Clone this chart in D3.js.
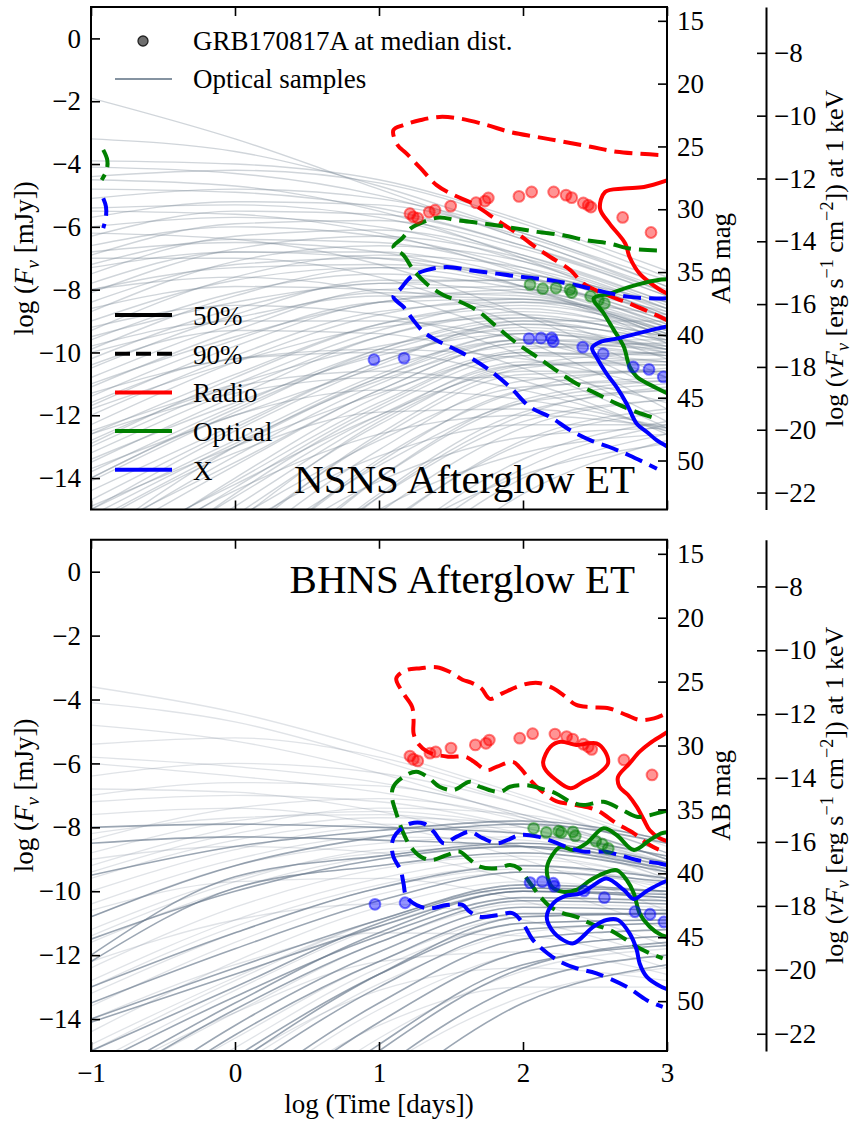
<!DOCTYPE html>
<html><head><meta charset="utf-8">
<script src="https://cdn.jsdelivr.net/npm/d3@7"></script>
<style>body{margin:0;background:#fff}svg{display:block}
svg text{font-family:"Liberation Serif","Times New Roman",Times,serif;fill:#000}</style>
</head><body><svg id="c" width="854" height="1124"></svg>
<script>
// ---------- tick values ----------
const timeTicks=[-1,0,1,2,3];
const fluxTicks=[0,-2,-4,-6,-8,-10,-12,-14];
const abTicks=[15,20,25,30,35,40,45,50];
const xrayTicks=[-8,-10,-12,-14,-16,-18,-20,-22];
const AB_ZERO=16.4;      // AB = AB_ZERO - 2.5 log F[mJy]
const KEV_OFFSET=7.54;   // log nuF_nu(1 keV) = log F[mJy] - KEV_OFFSET

// ---------- optical sample light curves (log F at log t = -1,0,1,2,3) ----------
const sampleTimes=[-1,0,1,2,3];
const nsnsSamples=[
[-1.9,-3.2,-4.8,-6.4,-8.0],[-3.2,-3.6,-4.7,-6.2,-7.7],[-3.9,-4.0,-4.5,-5.8,-7.4],[-4.1,-4.3,-5.0,-6.4,-8.1],
[-4.4,-4.2,-4.6,-5.9,-7.6],[-4.8,-4.9,-5.4,-6.6,-8.2],[-5.1,-4.8,-5.1,-6.2,-7.9],[-5.4,-5.3,-5.7,-6.9,-8.4],
[-5.7,-5.2,-5.3,-6.3,-7.9],[-6.0,-5.7,-6.0,-7.1,-8.6],[-6.3,-5.5,-5.6,-6.6,-8.1],[-6.6,-6.0,-6.3,-7.3,-8.8],
[-6.9,-5.9,-5.8,-6.7,-8.2],[-7.2,-6.4,-6.5,-7.4,-8.9],[-7.5,-6.3,-6.1,-6.9,-8.4],[-7.8,-6.8,-6.8,-7.6,-9.0],
[-8.1,-6.7,-6.3,-7.0,-8.5],[-8.4,-7.2,-7.0,-7.7,-9.1],[-8.7,-7.1,-6.6,-7.1,-8.6],[-9.0,-7.7,-7.3,-7.9,-9.2],
[-9.3,-7.6,-6.9,-7.3,-8.7],[-9.6,-8.1,-7.5,-8.0,-9.3],[-9.9,-8.2,-7.3,-7.5,-8.8],[-10.2,-8.6,-7.8,-8.1,-9.4],
[-10.5,-8.8,-7.7,-7.7,-8.9],[-10.8,-9.1,-8.1,-8.2,-9.4],[-11.1,-9.3,-8.0,-7.9,-9.0],[-11.4,-9.6,-8.4,-8.3,-9.5],
[-11.7,-9.8,-8.4,-8.1,-9.1],[-12.0,-10.1,-8.7,-8.4,-9.5],[-12.3,-10.3,-8.8,-8.3,-9.2],[-12.6,-10.7,-9.1,-8.6,-9.6],
[-12.9,-10.8,-9.1,-8.5,-9.3],[-13.2,-11.2,-9.5,-8.8,-9.7],[-13.5,-11.4,-9.5,-8.7,-9.4],[-13.8,-11.7,-9.9,-9.0,-9.8],
[-14.1,-11.9,-9.9,-8.9,-9.5],[-14.4,-12.3,-10.3,-9.2,-9.9],[-14.7,-12.4,-10.3,-9.1,-9.6],[-15.0,-12.8,-10.7,-9.4,-10.0],
[-15.4,-13.0,-10.8,-9.4,-9.8],[-15.8,-13.5,-11.2,-9.7,-10.1],[-16.2,-13.6,-11.2,-9.7,-9.9],[-16.7,-14.1,-11.6,-10.0,-10.3],
[-17.2,-14.3,-11.7,-10.0,-10.1],[-17.8,-14.9,-12.1,-10.3,-10.4],[-18.4,-15.2,-12.3,-10.4,-10.3],[-19.0,-15.8,-12.7,-10.7,-10.6],
[-19.7,-16.3,-13.1,-10.9,-10.6],[-20.4,-16.9,-13.5,-11.2,-10.8],[-21.2,-17.6,-14.0,-11.6,-11.0],[-22.0,-18.2,-14.5,-11.9,-11.2],
[-23.0,-19.0,-15.1,-12.4,-11.5],[-24.0,-19.8,-15.7,-12.8,-11.8],[-25.0,-20.7,-16.4,-13.4,-12.2],[-26.0,-21.6,-17.2,-14.0,-12.6],
[-6.2,-6.4,-7.2,-8.8,-10.8],[-7.0,-7.0,-7.6,-9.2,-11.3],[-8.0,-7.6,-8.1,-9.6,-11.8],[-9.2,-8.5,-8.8,-10.1,-12.2],
[-10.4,-9.3,-9.4,-10.5,-12.4],[-11.6,-10.2,-10.0,-10.9,-12.6],[-12.8,-11.1,-10.6,-11.2,-12.5],[-14.0,-12.0,-11.2,-11.5,-12.4],
[-15.5,-13.2,-11.9,-11.8,-12.5],[-17.0,-14.4,-12.6,-12.0,-12.4],[-18.5,-15.6,-13.3,-12.3,-12.3],[-20.0,-16.8,-14.1,-12.7,-12.4],
[-22.0,-18.3,-15.0,-13.2,-12.6],[-24.5,-20.0,-16.2,-13.9,-12.9],[-17.0,-14.0,-11.4,-9.9,-9.7],[-16.0,-13.3,-11.0,-9.6,-9.6],
[-19.0,-15.4,-12.2,-10.4,-10.0],[-15.0,-12.5,-10.4,-9.0,-9.0],[-13.0,-11.0,-9.3,-8.4,-8.8],[-11.0,-9.5,-8.4,-8.0,-8.7],
[-9.5,-8.4,-7.8,-7.7,-8.6],[-8.0,-7.3,-7.2,-7.5,-8.4],[-21.0,-17.0,-13.4,-11.2,-10.5],[-23.0,-18.6,-14.6,-12.0,-11.1],
[-12.5,-11.0,-9.8,-9.3,-9.9],[-13.7,-12.0,-10.5,-9.6,-10.0],[-14.9,-13.0,-11.3,-10.1,-10.3],[-16.5,-14.2,-12.0,-10.6,-10.6],
[-18.0,-15.3,-12.8,-11.1,-10.9],[-19.5,-16.5,-13.6,-11.6,-11.2],[-21.5,-18.0,-14.6,-12.2,-11.5],[-23.5,-19.5,-15.6,-12.9,-11.9],
[-25.5,-21.0,-16.8,-13.7,-12.3],[-27.0,-22.5,-18.0,-14.5,-12.8],[-10.0,-8.9,-8.2,-8.3,-9.3],[-11.8,-10.3,-9.2,-8.9,-9.5],
[-13.4,-11.6,-10.1,-9.4,-9.9],[-15.2,-12.9,-10.9,-9.8,-10.1],[-17.5,-14.6,-12.0,-10.4,-10.4],[-7.3,-6.8,-7.0,-7.9,-9.5],
[-8.6,-7.9,-8.0,-8.8,-10.2],[-9.8,-9.0,-9.0,-9.6,-10.8],[-11.3,-10.2,-9.9,-10.2,-11.2],[-12.6,-11.3,-10.8,-10.8,-11.6],
[-5.5,-5.6,-6.2,-7.5,-9.2],[-4.5,-4.7,-5.5,-7.0,-8.9],[-6.8,-6.5,-6.8,-7.9,-9.7],[-20.0,-16.0,-12.6,-10.5,-10.2],
[-22.5,-18.0,-14.0,-11.5,-10.9],[-18.0,-14.5,-11.8,-10.1,-10.0],[-16.0,-13.0,-10.8,-9.6,-9.8],[-14.0,-11.8,-10.0,-9.1,-9.6]
];
const bhnsSamplesLight=[
[-3.6,-4.4,-5.6,-7.0,-8.5],[-4.1,-4.7,-5.9,-7.3,-8.8],[-5.4,-5.2,-5.8,-7.1,-8.6],[-5.8,-6.1,-6.6,-7.6,-9.0],
[-6.0,-6.4,-6.9,-7.8,-9.1],[-6.4,-6.0,-6.3,-7.3,-8.8],[-7.0,-6.6,-6.7,-7.6,-9.0],[-7.2,-7.0,-7.2,-8.0,-9.3],
[-8.4,-7.4,-7.1,-7.7,-9.0],[-8.8,-7.8,-7.5,-8.0,-9.2],[-9.2,-8.0,-7.4,-7.6,-8.8],[-9.6,-8.4,-7.9,-8.2,-9.4],
[-10.0,-8.7,-8.0,-8.0,-9.0],[-10.4,-9.0,-8.3,-8.4,-9.5],[-10.8,-9.2,-8.5,-8.3,-9.1],[-11.2,-9.6,-8.8,-8.6,-9.6],
[-11.6,-9.9,-8.9,-8.6,-9.3],[-12.4,-10.5,-9.3,-8.9,-9.7],[-12.8,-10.9,-9.6,-9.0,-9.6],[-13.2,-11.3,-9.9,-9.3,-9.9],
[-13.6,-11.6,-10.1,-9.4,-9.8],[-14.4,-12.2,-10.5,-9.7,-10.1],[-14.8,-12.7,-10.9,-9.9,-10.3],[-15.4,-13.1,-11.1,-10.0,-10.2],
[-16.2,-13.8,-11.6,-10.4,-10.5],[-17.2,-14.6,-12.2,-10.8,-10.7],[-18.4,-15.5,-12.9,-11.3,-11.0],[-19.8,-16.6,-13.7,-11.9,-11.4],
[-21.4,-17.8,-14.6,-12.5,-11.8],[-23.0,-19.2,-15.6,-13.3,-12.4],[-7.6,-7.4,-7.9,-9.0,-10.6],[-9.0,-8.6,-8.8,-9.7,-11.2],
[-10.6,-9.7,-9.6,-10.3,-11.7],[-12.2,-10.9,-10.4,-10.9,-12.1],[-14.0,-12.3,-11.3,-11.4,-12.4],[-16.0,-13.8,-12.2,-11.9,-12.6],
[-18.0,-15.3,-13.1,-12.4,-12.8],[-20.5,-17.0,-14.2,-13.0,-13.0],[-4.8,-5.3,-6.3,-7.7,-9.2],[-6.8,-6.9,-7.5,-8.6,-10.1],
[-9.4,-8.2,-7.7,-7.9,-9.0],[-11.4,-9.7,-8.7,-8.5,-9.4],[-13.0,-11.1,-9.8,-9.2,-9.8],[-15.0,-12.8,-10.9,-9.9,-10.2],
[-17.6,-14.9,-12.4,-11.0,-10.9],[-8.2,-7.7,-7.6,-8.2,-9.6]
];
const bhnsSamplesDark=[
[-12.0,-9.55,-8.9,-8.5,-9.1],[-12.2,-9.9,-9.2,-8.8,-9.4],[-8.0,-7.9,-8.0,-8.2,-8.9],[-14.0,-12.4,-10.9,-9.8,-10.0],
[-14.1,-12.6,-11.1,-10.0,-10.1],[-15.5,-13.3,-11.4,-10.2,-10.3],[-16.3,-13.7,-11.6,-10.3,-10.4],[-17.2,-14.2,-11.9,-10.5,-10.6],
[-17.5,-14.5,-12.2,-10.7,-10.7],[-18.4,-15.2,-12.6,-11.0,-10.9],[-19.2,-15.8,-13.0,-11.2,-11.0],[-20.2,-16.5,-13.5,-11.5,-11.2],
[-21.3,-17.3,-14.1,-11.9,-11.4],[-22.5,-18.3,-14.8,-12.3,-11.7],[-10.8,-9.2,-8.3,-7.9,-8.5],[-13.0,-11.3,-9.9,-9.2,-9.6],
[-24.0,-19.5,-15.6,-12.9,-12.0],[-16.0,-13.5,-11.3,-10.0,-10.2],[-9.5,-8.6,-8.1,-7.8,-8.4],[-11.5,-10.0,-9.0,-8.6,-9.2],
[-13.5,-11.8,-10.3,-9.4,-9.7],[-15.0,-13.0,-11.0,-9.9,-10.0],[-18.8,-15.4,-12.6,-10.8,-10.7],[-23.0,-18.7,-15.0,-12.4,-11.6],
[-25.0,-20.5,-16.5,-13.5,-12.3],[-8.5,-8.3,-8.4,-8.6,-9.3]
];

// ---------- credible contours [log t, log F] ----------
const nsnsRadio90=[[2.94,-3.71],[2.65,-3.61],[2.47,-3.45],[2.28,-3.29],[2.10,-3.14],[1.91,-2.98],[1.75,-2.76],[1.56,-2.55],[1.42,-2.50],[1.29,-2.60],[1.17,-2.76],[1.10,-2.92],[1.13,-3.40],[1.19,-3.66],[1.29,-4.14],[1.40,-4.67],[1.52,-4.99],[1.63,-5.21],[1.72,-5.47],[1.82,-5.79],[1.96,-6.21],[2.10,-6.69],[2.19,-6.96],[2.33,-7.38],[2.42,-7.81],[2.56,-8.13],[2.74,-8.44],[2.93,-8.82],[3.0,-8.97]];
const nsnsRadio50=[[3.0,-4.52],[2.84,-4.73],[2.70,-4.78],[2.57,-4.89],[2.535,-5.42],[2.60,-5.89],[2.71,-6.53],[2.74,-6.96],[2.81,-7.49],[2.94,-7.97],[3.0,-8.12]];
const nsnsOpt90=[[2.93,-6.75],[2.74,-6.69],[2.60,-6.53],[2.44,-6.43],[2.28,-6.27],[2.10,-6.16],[1.91,-6.02],[1.72,-5.89],[1.54,-5.79],[1.42,-5.70],[1.31,-5.84],[1.22,-6.05],[1.16,-6.37],[1.10,-6.64],[1.17,-6.90],[1.24,-7.38],[1.33,-7.81],[1.45,-8.18],[1.54,-8.34],[1.68,-8.66],[1.82,-9.19],[1.96,-9.72],[2.10,-10.15],[2.23,-10.57],[2.37,-10.99],[2.51,-11.31],[2.65,-11.63],[2.79,-11.90],[2.93,-12.11]];
const nsnsOpt90Edge=[[-0.915,-3.55],[-0.887,-3.87],[-0.891,-4.19],[-0.926,-4.51]];
const nsnsOpt50=[[3.0,-7.67],[2.93,-7.70],[2.74,-7.91],[2.60,-8.13],[2.49,-8.28],[2.56,-8.75],[2.63,-9.28],[2.70,-9.82],[2.74,-10.45],[2.79,-10.77],[2.93,-11.14],[3.0,-11.3]];
const nsnsX90=[[3.0,-8.27],[2.93,-8.28],[2.74,-8.23],[2.56,-8.07],[2.37,-7.86],[2.19,-7.70],[2.00,-7.60],[1.82,-7.49],[1.63,-7.38],[1.47,-7.28],[1.33,-7.38],[1.22,-7.60],[1.15,-7.97],[1.10,-8.23],[1.17,-8.55],[1.24,-8.98],[1.31,-9.35],[1.40,-9.61],[1.52,-9.88],[1.63,-10.15],[1.77,-10.57],[1.91,-11.10],[2.05,-11.74],[2.19,-12.06],[2.33,-12.48],[2.47,-12.80],[2.60,-13.01],[2.74,-13.28],[2.93,-13.70]];
const nsnsX90Edge=[[-0.915,-5.09],[-0.896,-5.36],[-0.896,-5.68],[-0.915,-6.04]];
const nsnsX50=[[3.0,-9.17],[2.93,-9.24],[2.79,-9.40],[2.65,-9.56],[2.535,-9.67],[2.48,-9.85],[2.51,-10.15],[2.58,-10.67],[2.65,-11.10],[2.72,-11.63],[2.79,-12.27],[2.86,-12.53],[2.93,-12.80],[3.0,-12.99]];

const bhnsRadio90=[[2.97,-4.49],[2.91,-4.59],[2.81,-4.64],[2.72,-4.49],[2.60,-4.28],[2.47,-4.24],[2.37,-4.17],[2.28,-3.86],[2.21,-3.65],[2.12,-3.49],[2.05,-3.49],[1.96,-3.60],[1.86,-3.80],[1.77,-3.98],[1.71,-3.65],[1.64,-3.47],[1.58,-3.38],[1.49,-3.13],[1.40,-2.99],[1.29,-3.02],[1.19,-3.08],[1.12,-3.34],[1.17,-3.81],[1.23,-4.23],[1.24,-4.64],[1.24,-5.06],[1.27,-5.37],[1.34,-5.64],[1.48,-5.79],[1.60,-5.79],[1.66,-5.95],[1.75,-6.21],[1.82,-6.10],[1.93,-5.95],[1.98,-6.14],[2.05,-6.52],[2.12,-6.83],[2.23,-7.18],[2.37,-7.30],[2.51,-7.46],[2.65,-7.88],[2.77,-8.19],[2.86,-8.50],[2.95,-8.71],[3.0,-8.77]];
const bhnsRadio50Loop=[[2.14,-5.95],[2.19,-5.48],[2.26,-5.32],[2.37,-5.42],[2.51,-5.37],[2.57,-5.63],[2.59,-6.00],[2.51,-6.36],[2.42,-6.57],[2.33,-6.78],[2.23,-6.52],[2.15,-6.15]];
const bhnsRadio50=[[3.0,-5.02],[2.97,-5.11],[2.88,-5.37],[2.81,-5.63],[2.74,-6.00],[2.66,-6.42],[2.67,-6.73],[2.73,-6.99],[2.79,-7.36],[2.84,-7.77],[2.88,-8.09],[2.95,-8.34],[3.0,-8.43]];
const bhnsOpt90=[[3.0,-7.49],[2.97,-7.51],[2.88,-7.62],[2.79,-7.67],[2.67,-7.41],[2.56,-7.20],[2.42,-7.30],[2.33,-7.20],[2.23,-6.94],[2.12,-6.78],[2.03,-6.68],[1.91,-6.73],[1.84,-6.89],[1.70,-6.73],[1.63,-6.57],[1.52,-6.83],[1.42,-6.73],[1.35,-6.47],[1.26,-6.26],[1.17,-6.42],[1.10,-6.73],[1.09,-7.04],[1.12,-7.56],[1.17,-8.19],[1.22,-8.61],[1.29,-8.92],[1.37,-9.02],[1.47,-8.87],[1.56,-8.76],[1.62,-8.97],[1.70,-9.23],[1.82,-9.28],[1.91,-9.18],[1.97,-9.28],[2.05,-9.75],[2.12,-10.17],[2.19,-10.49],[2.28,-10.69],[2.37,-10.80],[2.47,-11.01],[2.60,-11.21],[2.70,-11.47],[2.79,-11.74],[2.88,-11.94],[2.97,-12.10]];
const bhnsOpt50=[[3.0,-8.15],[2.96,-8.19],[2.88,-8.40],[2.77,-8.71],[2.65,-8.24],[2.56,-8.03],[2.44,-8.50],[2.35,-8.71],[2.26,-8.61],[2.19,-8.97],[2.165,-9.34],[2.20,-9.86],[2.28,-10.02],[2.37,-9.96],[2.47,-9.65],[2.56,-9.44],[2.65,-9.34],[2.72,-9.65],[2.77,-10.07],[2.81,-10.69],[2.88,-11.11],[2.96,-11.37],[3.0,-11.43]];
const bhnsX90=[[3.0,-9.18],[2.95,-9.13],[2.79,-9.02],[2.67,-8.87],[2.56,-8.76],[2.42,-8.76],[2.33,-8.66],[2.21,-8.45],[2.10,-8.29],[1.98,-8.24],[1.89,-8.40],[1.82,-8.50],[1.72,-8.34],[1.63,-8.14],[1.54,-8.29],[1.45,-8.50],[1.38,-8.14],[1.31,-7.88],[1.22,-7.88],[1.12,-8.19],[1.09,-8.50],[1.10,-8.92],[1.15,-9.34],[1.17,-9.75],[1.19,-10.17],[1.26,-10.43],[1.35,-10.54],[1.47,-10.43],[1.58,-10.43],[1.63,-10.64],[1.70,-10.80],[1.82,-10.75],[1.93,-10.69],[2.00,-11.01],[2.07,-11.53],[2.17,-11.94],[2.26,-12.21],[2.37,-12.41],[2.51,-12.57],[2.72,-12.99],[2.86,-13.41],[2.97,-13.62]];
const bhnsX50=[[3.0,-9.68],[2.96,-9.75],[2.86,-9.99],[2.77,-10.24],[2.70,-9.96],[2.58,-9.60],[2.49,-9.81],[2.40,-10.07],[2.29,-10.15],[2.21,-10.38],[2.165,-10.80],[2.20,-11.21],[2.28,-11.53],[2.35,-11.63],[2.49,-11.11],[2.58,-10.90],[2.66,-10.90],[2.74,-11.32],[2.79,-11.84],[2.81,-12.26],[2.86,-12.68],[2.96,-12.99],[3.0,-13.06]];

// ---------- GRB170817A rescaled to median distance [log t, log F] ----------
const nsnsRadioPts=[[1.215,-5.58],[1.238,-5.68],[1.269,-5.72],[1.349,-5.53],[1.389,-5.47],[1.498,-5.34],[1.674,-5.23],[1.736,-5.18],[1.759,-5.08],[1.972,-5.03],[2.060,-4.89],[2.213,-4.89],[2.299,-4.99],[2.338,-5.07],[2.419,-5.24],[2.453,-5.31],[2.472,-5.37],[2.692,-5.70],[2.889,-6.18]];
const nsnsOptPts=[[2.049,-7.84],[2.137,-7.97],[2.229,-7.95],[2.326,-8.00],[2.338,-8.09],[2.470,-8.21],[2.523,-8.34],[2.565,-8.44]];
const nsnsXPts=[[0.965,-10.23],[1.174,-10.18],[2.042,-9.56],[2.125,-9.54],[2.199,-9.54],[2.210,-9.65],[2.415,-9.83],[2.557,-10.04],[2.766,-10.46],[2.875,-10.54],[2.974,-10.78]];
const bhnsRadioPts=[[1.215,-5.77],[1.238,-5.87],[1.269,-5.92],[1.354,-5.68],[1.394,-5.64],[1.500,-5.52],[1.669,-5.42],[1.743,-5.37],[1.766,-5.27],[1.977,-5.21],[2.067,-5.07],[2.222,-5.08],[2.303,-5.16],[2.345,-5.24],[2.419,-5.40],[2.453,-5.48],[2.477,-5.56],[2.701,-5.89],[2.896,-6.36]];
const bhnsOptPts=[[2.074,-8.03],[2.162,-8.16],[2.248,-8.12],[2.266,-8.16],[2.347,-8.14],[2.363,-8.27],[2.505,-8.43],[2.551,-8.53],[2.592,-8.66]];
const bhnsXPts=[[0.972,-10.41],[1.181,-10.36],[2.049,-9.73],[2.134,-9.70],[2.210,-9.75],[2.217,-9.84],[2.424,-9.99],[2.565,-10.20],[2.778,-10.64],[2.882,-10.72],[2.979,-10.96]];

// ---------- legend entries ----------
const levelLegend=[{label:"50%",level:50},{label:"90%",level:90}];
const bandLegend=[{label:"Radio",band:"radio"},{label:"Optical",band:"optical"},{label:"X",band:"xray"}];

const COLORS={radio:"#ff0000",optical:"#008000",xray:"#0000ff",black:"#000000"};
const SAMPLE_COLOR="#708090";
const FONT="'Liberation Serif','Times New Roman',Times,serif";
const X0=91,X1=667,AXR=766,FS=27;
const svg=d3.select("#c").attr("font-family",FONT);
const defs=svg.append("defs");

function richText(sel,parts,size){
  const t=sel.append("text").attr("font-size",size).attr("font-family",FONT);
  let shift=0;
  parts.forEach(p=>{
    const ts=t.append("tspan").text(p.t);
    if(p.it) ts.attr("font-style","italic");
    let target=0;
    if(p.sub){ts.attr("font-size",size*0.7);target=6;}
    if(p.sup){ts.attr("font-size",size*0.7);target=-10;}
    if(target!==shift){ts.attr("dy",target-shift);shift=target;}
  });
  return t;
}

function drawPanel(p){
  const x=d3.scaleLinear().domain([-1,3]).range([X0,X1]);
  const y=d3.scaleLinear().domain([-15,1]).range([p.bottom,p.top]);
  const yab=d3.scaleLinear().domain([AB_ZERO+2.5*15,AB_ZERO-2.5*1]).range([p.bottom,p.top]);
  const ykev=d3.scaleLinear().domain([-15-KEV_OFFSET,1-KEV_OFFSET]).range([p.bottom,p.top]);
  const cid="clip"+p.id;
  defs.append("clipPath").attr("id",cid).append("rect").attr("x",X0).attr("y",p.top).attr("width",X1-X0).attr("height",p.bottom-p.top);
  const g=svg.append("g");
  const plot=g.append("g").attr("clip-path",`url(#${cid})`);
  const sline=d3.line().x((d,i)=>x(sampleTimes[i])).y(d=>y(d)).curve(d3.curveMonotoneX);
  p.sampleSets.forEach(s=>{
    plot.append("g").selectAll("path").data(s.data).join("path")
      .attr("d",sline).attr("fill","none").attr("stroke",s.color||SAMPLE_COLOR)
      .attr("stroke-width",s.w).attr("stroke-opacity",s.op);
  });
  const cline=d3.line().x(d=>x(d[0])).y(d=>y(d[1])).curve(d3.curveCatmullRom.alpha(0.5));
  const cclosed=d3.line().x(d=>x(d[0])).y(d=>y(d[1])).curve(d3.curveCatmullRomClosed.alpha(0.5));
  p.contours.forEach(c=>{
    plot.append("path").attr("d",(c.closed?cclosed:cline)(c.data)).attr("fill","none")
      .attr("stroke",COLORS[c.band]).attr("stroke-width",4)
      .attr("stroke-dasharray",c.level===90?"18,8":null);
  });
  p.points.forEach(ps=>{
    plot.append("g").selectAll("circle").data(ps.data).join("circle")
      .attr("cx",d=>x(d[0])).attr("cy",d=>y(d[1])).attr("r",5.4)
      .attr("fill",COLORS[ps.band]).attr("fill-opacity",0.42)
      .attr("stroke",COLORS[ps.band]).attr("stroke-opacity",0.5).attr("stroke-width",2);
  });
  g.append("text").attr("x",635).attr("y",p.titleY).attr("text-anchor","end").attr("font-size",41).attr("font-family",FONT).text(p.title);
  g.append("rect").attr("x",X0).attr("y",p.top).attr("width",X1-X0).attr("height",p.bottom-p.top)
    .attr("fill","none").attr("stroke","#000").attr("stroke-width",2);
  const style=a=>{a.attr("font-family",FONT).attr("font-size",FS);
    a.selectAll("text").attr("font-size",FS).attr("font-family",FONT).attr("fill","#000");
    a.selectAll("line").attr("stroke","#000").attr("stroke-width",1.6);};
  const la=g.append("g").attr("transform",`translate(${X0},0)`)
    .call(d3.axisLeft(y).tickValues(fluxTicks).tickSize(-9).tickPadding(10));
  la.select(".domain").remove();style(la);
  const ra=g.append("g").attr("transform",`translate(${X1},0)`)
    .call(d3.axisRight(yab).tickValues(abTicks).tickSize(-9).tickPadding(10));
  ra.select(".domain").remove();style(ra);
  const ka=g.append("g").attr("transform",`translate(${AXR},0)`)
    .call(d3.axisRight(ykev).tickValues(xrayTicks).tickSize(-9).tickSizeOuter(0).tickPadding(8));
  ka.select(".domain").attr("stroke","#000").attr("stroke-width",2);style(ka);
  const ta=g.append("g").attr("transform",`translate(0,${p.top})`)
    .call(d3.axisTop(x).tickValues(timeTicks).tickSize(-9).tickFormat(""));
  ta.select(".domain").remove();style(ta);
  const ba=g.append("g").attr("transform",`translate(0,${p.bottom})`)
    .call(d3.axisBottom(x).tickValues(timeTicks).tickSize(-9).tickPadding(12).tickFormat(p.xLabels?d3.format("d"):""));
  ba.select(".domain").remove();style(ba);
  const cy=(p.top+p.bottom)/2;
  richText(g,[{t:"log ("},{t:"F",it:true},{t:"ν",it:true,sub:true},{t:" [mJy])"}],FS)
    .attr("text-anchor","middle").attr("transform",`translate(33,${cy}) rotate(-90)`);
  g.append("text").attr("font-size",FS).attr("font-family",FONT).attr("text-anchor","middle")
    .attr("transform",`translate(730,${cy}) rotate(-90)`).text("AB mag");
  richText(g,[{t:"log ("},{t:"νF",it:true},{t:"ν",it:true,sub:true},{t:" [erg s"},{t:"−1",sup:true},{t:" cm"},{t:"−2",sup:true},{t:"]) at 1 keV"}],FS-1)
    .attr("text-anchor","middle").attr("transform",`translate(843,${cy}) rotate(-90)`);
}

drawPanel({id:"nsns",top:7,bottom:509.5,title:"NSNS Afterglow ET",titleY:493,xLabels:false,
  sampleSets:[{data:nsnsSamples,w:1.4,op:0.33}],
  contours:[
    {data:nsnsRadio90,band:"radio",level:90},{data:nsnsRadio50,band:"radio",level:50},
    {data:nsnsOpt90,band:"optical",level:90},{data:nsnsOpt90Edge,band:"optical",level:90},{data:nsnsOpt50,band:"optical",level:50},
    {data:nsnsX90,band:"xray",level:90},{data:nsnsX90Edge,band:"xray",level:90},{data:nsnsX50,band:"xray",level:50}],
  points:[{data:nsnsRadioPts,band:"radio"},{data:nsnsOptPts,band:"optical"},{data:nsnsXPts,band:"xray"}]});

drawPanel({id:"bhns",top:539.75,bottom:1051,title:"BHNS Afterglow ET",titleY:593,xLabels:true,
  sampleSets:[{data:bhnsSamplesLight,w:1.3,op:0.22},{data:bhnsSamplesDark,w:1.6,op:0.65,color:"#66778a"}],
  contours:[
    {data:bhnsRadio90,band:"radio",level:90},{data:bhnsRadio50Loop,band:"radio",level:50,closed:true},{data:bhnsRadio50,band:"radio",level:50},
    {data:bhnsOpt90,band:"optical",level:90},{data:bhnsOpt50,band:"optical",level:50},
    {data:bhnsX90,band:"xray",level:90},{data:bhnsX50,band:"xray",level:50}],
  points:[{data:bhnsRadioPts,band:"radio"},{data:bhnsOptPts,band:"optical"},{data:bhnsXPts,band:"xray"}]});

svg.append("text").attr("x",379).attr("y",1113).attr("text-anchor","middle").attr("font-size",FS).attr("font-family",FONT).text("log (Time [days])");

const lg=svg.append("g").attr("font-family",FONT);
lg.append("circle").attr("cx",143).attr("cy",41).attr("r",5).attr("fill","#6e6e6e").attr("stroke","#222").attr("stroke-width",1.3);
lg.append("text").attr("x",193).attr("y",50).attr("font-size",27).attr("font-family",FONT).text("GRB170817A at median dist.");
lg.append("line").attr("x1",115).attr("x2",172).attr("y1",79).attr("y2",79).attr("stroke",SAMPLE_COLOR).attr("stroke-opacity",0.85).attr("stroke-width",2);
lg.append("text").attr("x",193).attr("y",88).attr("font-size",27).attr("font-family",FONT).text("Optical samples");
const entries=[...levelLegend.map(d=>({label:d.label,color:COLORS.black,dash:d.level===90})),
               ...bandLegend.map(d=>({label:d.label,color:COLORS[d.band],dash:false}))];
entries.forEach((e,i)=>{
  const yy=315+i*38.7;
  lg.append("line").attr("x1",115).attr("x2",172).attr("y1",yy).attr("y2",yy).attr("stroke",e.color)
    .attr("stroke-width",4).attr("stroke-dasharray",e.dash?"15,6":null);
  lg.append("text").attr("x",193).attr("y",yy+10).attr("font-size",27).attr("font-family",FONT).text(e.label);
});
</script></body></html>
